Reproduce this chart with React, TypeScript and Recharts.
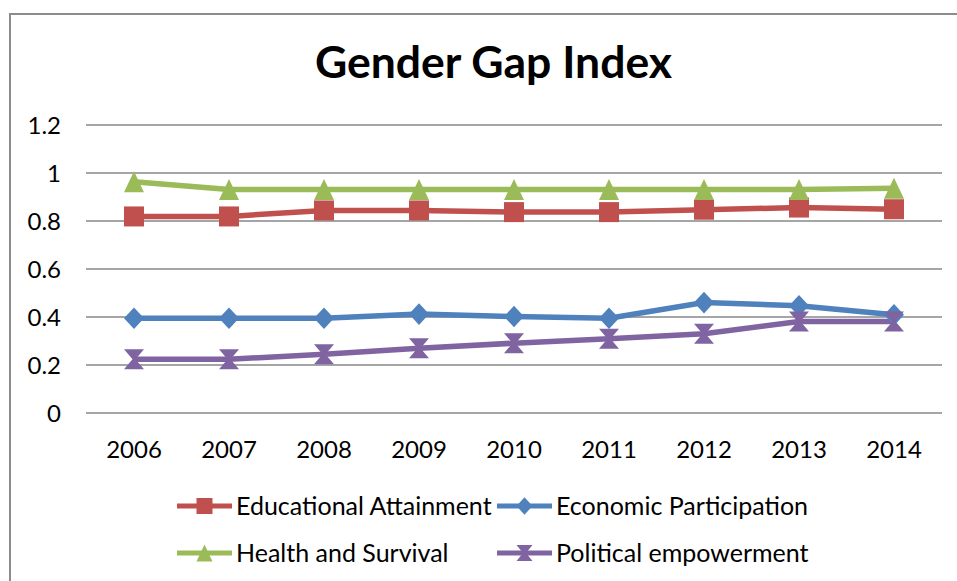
import React from 'react';
import { LineChart, Line, XAxis, YAxis, CartesianGrid, Legend } from 'recharts';

const years = ['2006', '2007', '2008', '2009', '2010', '2011', '2012', '2013', '2014'];
const educational = [0.819, 0.819, 0.844, 0.844, 0.837, 0.837, 0.847, 0.856, 0.849];
const economic = [0.395, 0.395, 0.395, 0.412, 0.402, 0.395, 0.46, 0.447, 0.409];
const health = [0.964, 0.931, 0.931, 0.931, 0.931, 0.931, 0.931, 0.931, 0.936];
const political = [0.224, 0.224, 0.245, 0.27, 0.291, 0.309, 0.33, 0.381, 0.381];
const yTicks = [0, 0.2, 0.4, 0.6, 0.8, 1, 1.2];

const seriesNames = ['Educational Attainment', 'Economic Participation', 'Health and Survival', 'Political empowerment'];

const data = years.map((y, i) => ({
  year: y,
  edu: educational[i],
  eco: economic[i],
  hea: health[i],
  pol: political[i],
}));

const RED = '#C0504D';
const BLUE = '#4F81BD';
const GREEN = '#9BBB59';
const PURPLE = '#8064A2';

type Kind = 'square' | 'diamond' | 'triangle' | 'hourglass';

function markerShape(kind: Kind, cx: number, cy: number, s: number, color: string, key?: any) {
  const h = s / 2;
  if (kind === 'square') {
    return <rect key={key} x={cx - h} y={cy - h} width={s} height={s} fill={color} />;
  }
  if (kind === 'diamond') {
    const v = h * 1.08;
    return <polygon key={key} points={`${cx},${cy - v} ${cx + h},${cy} ${cx},${cy + v} ${cx - h},${cy}`} fill={color} />;
  }
  if (kind === 'triangle') {
    const v = h * 1.05;
    return <polygon key={key} points={`${cx},${cy - v} ${cx + h},${cy + v} ${cx - h},${cy + v}`} fill={color} />;
  }
  return (
    <polygon
      key={key}
      points={`${cx - h},${cy - h} ${cx + h},${cy - h} ${cx + 1.5},${cy} ${cx + h},${cy + h} ${cx - h},${cy + h} ${cx - 1.5},${cy}`}
      fill={color}
    />
  );
}

function makeDot(kind: Kind, color: string) {
  return (props: any) => {
    const { cx, cy, index } = props;
    if (cx == null || cy == null) return <g key={index} />;
    return markerShape(kind, cx, cy, 20, color, index);
  };
}

const legendItems: { name: string; color: string; kind: Kind; left: number; top: number }[] = [
  { name: seriesNames[0], color: RED, kind: 'square', left: 177, top: 493 },
  { name: seriesNames[1], color: BLUE, kind: 'diamond', left: 497, top: 493 },
  { name: seriesNames[2], color: GREEN, kind: 'triangle', left: 177, top: 540 },
  { name: seriesNames[3], color: PURPLE, kind: 'hourglass', left: 497, top: 540 },
];

function LegendContent() {
  return (
    <div style={{ position: 'relative', width: 0, height: 0 }}>
      {legendItems.map((it) => (
        <div key={it.name} style={{ position: 'absolute', left: it.left, top: it.top, height: 24, whiteSpace: 'nowrap' }}>
          <svg width={56} height={26} style={{ position: 'absolute', left: 0, top: 0 }}>
            <line x1={0} y1={13} x2={55} y2={13} stroke={it.color} strokeWidth={5} />
            {markerShape(it.kind, 27.5, 13, 16, it.color)}
          </svg>
          <span
            style={{
              position: 'absolute',
              left: 59,
              top: 0,
              fontSize: 25,
              lineHeight: '24px',
              color: '#000',
              fontFamily: 'Lato, sans-serif',
            }}
          >
            {it.name}
          </span>
        </div>
      ))}
    </div>
  );
}

export default function App() {
  return (
    <div
      style={{
        position: 'absolute',
        left: 0,
        top: 0,
        width: 957,
        height: 581,
        overflow: 'hidden',
        background: '#fff',
        fontFamily: 'Lato, sans-serif',
      }}
    >
      <div
        style={{
          position: 'absolute',
          left: 9,
          top: 12.5,
          width: 1000,
          height: 1000,
          border: '2px solid #8c8c8c',
          boxSizing: 'border-box',
        }}
      />
      <div
        style={{
          position: 'absolute',
          left: 0,
          top: 39,
          width: 987,
          textAlign: 'center',
          fontSize: 44.5,
          lineHeight: '44px',
          fontWeight: 700,
          color: '#000',
        }}
      >
        Gender Gap Index
      </div>
      <LineChart
        width={957}
        height={581}
        data={data}
        margin={{ top: 125, right: 15, left: 0, bottom: 138 }}
        style={{ position: 'absolute', left: 0, top: 0 }}
      >
        <CartesianGrid horizontal vertical={false} stroke="#878787" strokeWidth={1.6} />
        <XAxis
          dataKey="year"
          axisLine={false}
          tickLine={false}
          tickSize={0}
          tickMargin={27.5}
          height={30}
          padding={{ left: 48, right: 48 }}
          tick={{ fill: '#000', fontSize: 24, fontFamily: 'Lato, sans-serif' }}
        />
        <YAxis
          domain={[0, 1.2]}
          ticks={yTicks}
          axisLine={false}
          tickLine={false}
          tickSize={0}
          tickMargin={25}
          width={86}
          tick={{ fill: '#000', fontSize: 24, fontFamily: 'Lato, sans-serif' }}
        />
        <Legend
          content={<LegendContent />}
          wrapperStyle={{ position: 'absolute', left: 0, top: 0, width: 0, height: 0, margin: 0 }}
        />
        <Line
          dataKey="edu"
          name={seriesNames[0]}
          stroke={RED}
          strokeWidth={5.5}
          dot={makeDot('square', RED)}
          activeDot={false}
          isAnimationActive={false}
        />
        <Line
          dataKey="eco"
          name={seriesNames[1]}
          stroke={BLUE}
          strokeWidth={5.5}
          dot={makeDot('diamond', BLUE)}
          activeDot={false}
          isAnimationActive={false}
        />
        <Line
          dataKey="hea"
          name={seriesNames[2]}
          stroke={GREEN}
          strokeWidth={5.5}
          dot={makeDot('triangle', GREEN)}
          activeDot={false}
          isAnimationActive={false}
        />
        <Line
          dataKey="pol"
          name={seriesNames[3]}
          stroke={PURPLE}
          strokeWidth={5.5}
          dot={makeDot('hourglass', PURPLE)}
          activeDot={false}
          isAnimationActive={false}
        />
      </LineChart>
    </div>
  );
}
